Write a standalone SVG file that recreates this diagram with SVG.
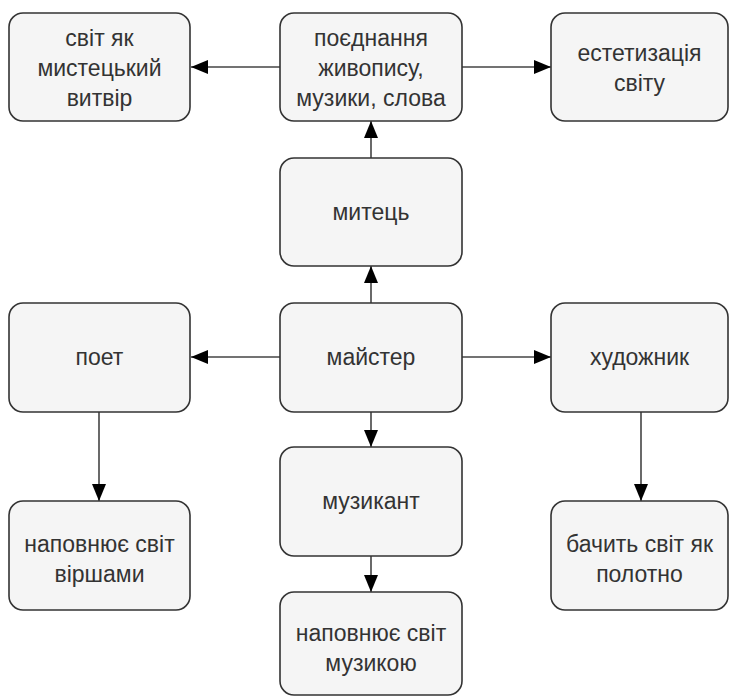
<svg xmlns="http://www.w3.org/2000/svg" width="730" height="698" viewBox="0 0 730 698">
<defs>
<style>
.n rect{fill:#f5f5f5;stroke:#333;stroke-width:1.6}
.n text{font-family:"Liberation Sans",Arial,sans-serif;font-size:23px;fill:#333;text-anchor:middle}
.c line{stroke:#444;stroke-width:1.6;fill:none}
</style>
<marker id="a" viewBox="0 0 17 14" refX="17" refY="7" markerWidth="17" markerHeight="14" markerUnits="userSpaceOnUse" orient="auto">
<path d="M0,0 L17,7 L0,14 Z" fill="#000"/>
</marker>
</defs>
<rect width="730" height="698" fill="#fff"/>
<g class="c">
<line x1="280" y1="67" x2="191" y2="67" marker-end="url(#a)"/>
<line x1="462" y1="67" x2="551" y2="67" marker-end="url(#a)"/>
<line x1="371" y1="158" x2="371" y2="121" marker-end="url(#a)"/>
<line x1="371" y1="303" x2="371" y2="266" marker-end="url(#a)"/>
<line x1="280" y1="357" x2="191" y2="357" marker-end="url(#a)"/>
<line x1="462" y1="357" x2="551" y2="357" marker-end="url(#a)"/>
<line x1="371" y1="412" x2="371" y2="447" marker-end="url(#a)"/>
<line x1="371" y1="556" x2="371" y2="592" marker-end="url(#a)"/>
<line x1="99" y1="412" x2="99" y2="501" marker-end="url(#a)"/>
<line x1="641" y1="412" x2="641" y2="501" marker-end="url(#a)"/>
</g>
<g id="svit" class="n"><rect x="9" y="13" width="181" height="108" rx="14"/>
<text x="99.5" y="46">світ як</text><text x="99.5" y="76">мистецький</text><text x="99.5" y="106">витвір</text></g>
<g id="poednannia" class="n"><rect x="280" y="13" width="182" height="108" rx="14"/>
<text x="371" y="46">поєднання</text><text x="371" y="76">живопису,</text><text x="371" y="106">музики, слова</text></g>
<g id="estetyzatsiia" class="n"><rect x="551" y="13" width="177" height="108" rx="14"/>
<text x="639.5" y="61">естетизація</text><text x="639.5" y="91">світу</text></g>
<g id="mytets" class="n"><rect x="280" y="158" width="182" height="108" rx="14"/>
<text x="371" y="220">митець</text></g>
<g id="poet" class="n"><rect x="9" y="303" width="181" height="109" rx="14"/>
<text x="99.5" y="365">поет</text></g>
<g id="maister" class="n"><rect x="280" y="303" width="182" height="109" rx="14"/>
<text x="371" y="365">майстер</text></g>
<g id="khudozhnyk" class="n"><rect x="551" y="303" width="177" height="109" rx="14"/>
<text x="639.5" y="365">художник</text></g>
<g id="muzykant" class="n"><rect x="280" y="447" width="182" height="109" rx="14"/>
<text x="371" y="509">музикант</text></g>
<g id="virshamy" class="n"><rect x="9" y="501" width="181" height="109" rx="14"/>
<text x="99.5" y="552">наповнює світ</text><text x="99.5" y="582">віршами</text></g>
<g id="polotno" class="n"><rect x="551" y="501" width="177" height="109" rx="14"/>
<text x="639.5" y="552">бачить світ як</text><text x="639.5" y="582">полотно</text></g>
<g id="muzykoiu" class="n"><rect x="280" y="592" width="182" height="103" rx="14"/>
<text x="371" y="641">наповнює світ</text><text x="371" y="671">музикою</text></g>
</svg>
